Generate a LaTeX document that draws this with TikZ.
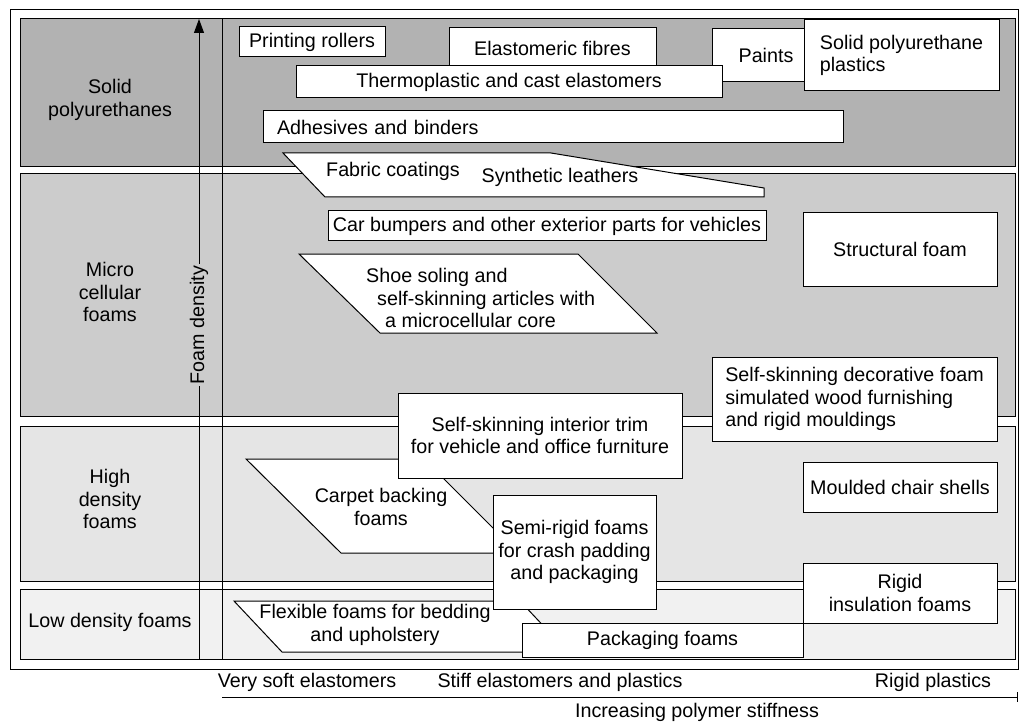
\documentclass[tikz,border=0pt]{standalone}
\usepackage{fontspec}
\setmainfont{Liberation Sans}
\usetikzlibrary{arrows.meta}
\definecolor{solidgray}{gray}{0.70}
\definecolor{microgray}{gray}{0.80}
\definecolor{highgray}{gray}{0.90}
\definecolor{lowgray}{gray}{0.945}
\tikzset{
  band/.style={draw, line width=1pt},
  box/.style={draw, fill=white, line width=1pt, inner sep=0pt, align=center},
  slant/.style={draw, fill=white, line width=1pt},
  lbl/.style={align=center, inner sep=0pt},
}

\begin{document}
\begin{tikzpicture}[x=1pt, y=-1pt, font=\fontsize{19.7}{22.5}\selectfont]
  \useasboundingbox (0,0) rectangle (1020,722);
  \draw[line width=1pt] (10,10) rectangle (1018,669);
  \draw[band, fill=solidgray] (20,19) rectangle (1015,167);
  \draw[band, fill=microgray] (20,174) rectangle (1015,416);
  \draw[band, fill=highgray] (20,426) rectangle (1015,581);
  \draw[band, fill=lowgray] (20,589) rectangle (1015,659);

  \node[lbl] (solid) at (110,100) {Solid\\polyurethanes};
  \node[lbl] (micro) at (110,292) {Micro\\cellular\\foams};
  \node[lbl] (high) at (110,499) {High\\density\\foams};
  \node[lbl] (low) at (110,622) {Low density foams};

  \coordinate (densbot) at (199,659);
  \coordinate (denstop) at (199,19);
  \coordinate (sepbot) at (222,659);
  \coordinate (septop) at (222,19);
  \draw[line width=1pt] (sepbot) -- (septop);
  \draw[line width=1pt, -{Triangle[length=14pt,width=10pt]}] (densbot) -- (denstop);
  \node[rotate=90, fill=microgray, inner sep=2pt] (density) at (199,325) {Foam density};

  \node[box, minimum width=108pt, minimum height=53pt] (paints) at (766,55.5) {Paints};
  \node[box, minimum width=207pt, minimum height=40pt] (fibres) at (552.5,48) {Elastomeric fibres};
  \node[box, minimum width=426pt, minimum height=32pt] (thermo) at (509,82) {Thermoplastic and cast elastomers};
  \node[box, minimum width=195pt, minimum height=71pt, align=left] (plastics) at (901.5,55.5) {Solid polyurethane\\plastics};
  \node[box, minimum width=146pt, minimum height=30pt] (rollers) at (312,42) {Printing rollers};
  \node[box, minimum width=580pt, minimum height=32pt, inner xsep=14pt,
        text width=552pt, align=left] (adhesives) at (553,127) {Adhesives and binders};

  \draw[slant] (283,153) -- (551,153) -- (764,188) -- (764,197) -- (325,197) -- cycle;
  \node[lbl] (fabric) at (393,171) {Fabric coatings};
  \node[lbl] (leathers) at (560,177) {Synthetic leathers};

  \node[box, minimum width=438pt, minimum height=30pt] (bumpers) at (547,226) {Car bumpers and other exterior parts for vehicles};
  \node[box, minimum width=194pt, minimum height=73pt] (structural) at (900,249.5) {Structural foam};

  \draw[slant] (299,254) -- (578,254) -- (657,333) -- (380,333) -- cycle;
  \node[lbl, align=left, anchor=west] (shoe) at (366,298)
    {Shoe soling and\\\hspace*{11pt}self-skinning articles with\\\hspace*{19pt}a microcellular core};

  \draw[slant] (246,459) -- (424,459) -- (518,553) -- (341,553) -- cycle;
  \node[lbl] (carpet) at (381,507) {Carpet backing\\foams};

  \draw[slant] (234,601) -- (520,601) -- (568,652) -- (282,652) -- cycle;
  \node[lbl] (flexible) at (375,625) {Flexible foams for bedding\\and upholstery};

  \node[box, minimum width=284pt, minimum height=85pt] (trim) at (540,435.5) {Self-skinning interior trim\\for vehicle and office furniture};
  \node[box, minimum width=285pt, minimum height=84pt, align=left] (decorative) at (854.5,399)
    {Self-skinning decorative foam\\simulated wood furnishing\\and rigid mouldings};
  \node[box, minimum width=194pt, minimum height=50pt] (chair) at (900,487) {Moulded chair shells};
  \node[box, minimum width=163pt, minimum height=114pt] (semirigid) at (574.5,552) {Semi-rigid foams\\for crash padding\\and packaging};
  \node[box, minimum width=281pt, minimum height=34pt] (packaging) at (662.5,640) {Packaging foams};
  \node[box, minimum width=194pt, minimum height=60pt] (rigid) at (900,593) {Rigid\\insulation foams};

  \node[lbl] (verysoft) at (307,682) {Very soft elastomers};
  \node[lbl] (stiff) at (560,682) {Stiff elastomers and plastics};
  \node[lbl] (rigidpl) at (933,682) {Rigid plastics};
  \coordinate (stiff0) at (222,697);
  \coordinate (stiff1) at (1018,697);
  \draw[line width=1pt, -{Bar[width=10pt]}] (stiff0) -- (stiff1);
  \node[lbl] (increasing) at (697,712) {Increasing polymer stiffness};
\end{tikzpicture}
\end{document}
